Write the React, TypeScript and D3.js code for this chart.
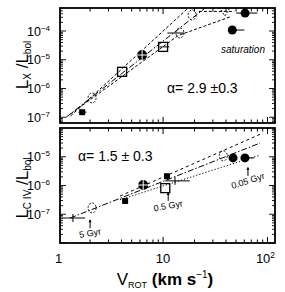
import { scaleLog, line } from "d3";

// top panel: Lx/Lbol vs Vrot
const topV = [1.68, 2.09, 4.05, 6.3, 10, 14.5, 19, 39, 61, 46];
const topL = [1.5e-7, 4.7e-7, 3.8e-6, 1.46e-5, 2.8e-5, 8.5e-5, 3.6e-4, 4.6e-4, 4.2e-4, 1.08e-4];
const topSym = ["fsquare", "dcircle", "osquare", "fcross", "osquare", "dcircle", "dcircle", "otri", "fcircle", "fcircle"];
const topErrLo = [1.55, 0, 0, 5.6, 9.2, 11, 0, 0, 50, 0];
const topErrHi = [1.85, 0, 0, 7, 11.5, 16, 0, 0, 80, 60];

// bottom panel: LCIV/Lbol vs Vrot
const botV = [1.37, 2.09, 4.33, 6.45, 10.5, 10.9, 13, 37.7, 46.8, 60.8];
const botL = [7.4e-8, 1.66e-7, 2.9e-7, 1.04e-6, 8.1e-7, 2.1e-6, 1.45e-6, 1.07e-5, 9.1e-6, 9.1e-6];
const botSym = ["plus", "dcircle", "fsquare", "fcross", "osquare", "fsquare", "plus", "dcircle", "fcircle", "fcircle"];
const botErrLo = [1.1, 0, 0, 0, 0, 0, 10.5, 0, 0, 0];
const botErrHi = [1.79, 0, 0, 0, 0, 0, 18, 0, 0, 75];

// fit lines, points
const topFitV = [1.18, 25.3];
const topFitL = [1.0e-7, 6.3e-4];
const topUpV = [1.3, 17.4];
const topUpL = [1.1e-7, 6.3e-4];
const topLoV = [1.3, 14, 45];
const topLoL = [1.3e-7, 7e-5, 3.2e-4];
const topSatV = [22, 48];
const topSatL = [4.8e-4, 4.8e-4];

const botFitV = [1.29, 85];
const botFitL = [7.4e-8, 3.0e-5];
const botUpV = [3.87, 90.7];
const botUpL = [4.3e-7, 6.7e-5];
const botLoV = [3.87, 85];
const botLoL = [3.2e-7, 1.15e-5];

const ages = ["5 Gyr", "0.5 Gyr", "0.05 Gyr"];
const ageV = [2.0, 11.2, 65];
const ageL = [2.2e-8, 1.95e-7, 1.45e-6];

const xTickLabels = ["1", "10", "10"];
const xTickVals = [1, 10, 100];
const topYTicks = [-4, -5, -6, -7];
const botYTicks = [-5, -6, -7];

const left = 60;
const right = 275;
const font = "Liberation Sans, Arial, Helvetica, sans-serif";

const x = scaleLog().domain([1.03, 118]).range([left, right]);
const yTop = scaleLog().domain([10 ** -7.2, 10 ** -3.2]).range([123, 8]);
const yBot = scaleLog().domain([1e-8, 1e-4]).range([243, 128]);

const minorX = () => {
  const out: number[] = [];
  for (const d of [1, 10, 100]) for (let k = 1; k < 10; k++) out.push(d * k);
  return out.filter((v) => v >= 1.03 && v <= 118);
};
const minorY = (lo: number, hi: number) => {
  const out: number[] = [];
  for (let e = lo; e <= hi; e++) for (let k = 1; k < 10; k++) out.push(k * 10 ** e);
  return out;
};

const Symbol = ({ t, cx, cy }: { t: string; cx: number; cy: number }) => {
  switch (t) {
    case "fsquare":
      return <rect x={cx - 3} y={cy - 3} width={6} height={6} fill="#000" />;
    case "osquare":
      return <rect x={cx - 4.5} y={cy - 4.5} width={9} height={9} fill="none" stroke="#000" strokeWidth={1.3} />;
    case "dcircle":
      return <ellipse cx={cx} cy={cy} rx={4} ry={5} fill="none" stroke="#000" strokeWidth={0.9} strokeDasharray="2 1.5" />;
    case "fcross":
      return (
        <g>
          <circle cx={cx} cy={cy} r={5} fill="#000" />
          <line x1={cx - 6} x2={cx + 6} y1={cy} y2={cy} stroke="#fff" strokeWidth={1} />
          <line x1={cx} x2={cx} y1={cy - 6} y2={cy + 6} stroke="#fff" strokeWidth={1} />
        </g>
      );
    case "fcircle":
      return <circle cx={cx} cy={cy} r={4.5} fill="#000" />;
    case "otri":
      return <path d={`M${cx - 5},${cy - 4}L${cx + 5},${cy - 4}L${cx},${cy + 4}Z`} fill="none" stroke="#000" strokeWidth={1} strokeDasharray="2 1.5" />;
    case "plus":
      return (
        <g stroke="#000" strokeWidth={1}>
          <line x1={cx} x2={cx} y1={cy - 4} y2={cy + 4} />
        </g>
      );
    default:
      return null;
  }
};

const Panel = ({
  y,
  vs,
  ls,
  syms,
  lo,
  hi,
  fits,
  yTicks,
  eLo,
  eHi,
}: {
  y: any;
  vs: number[];
  ls: number[];
  syms: string[];
  lo: number[];
  hi: number[];
  fits: { v: number[]; l: number[]; dash: string }[];
  yTicks: number[];
  eLo: number;
  eHi: number;
}) => {
  const [y1, y0] = y.range();
  const path = line<[number, number]>()
    .x((d) => x(d[0]))
    .y((d) => y(d[1]));
  return (
    <g>
      {fits.map((f, i) => (
        <path
          key={i}
          d={path(f.v.map((v, j) => [v, f.l[j]]))!}
          fill="none"
          stroke="#000"
          strokeWidth={1}
          strokeDasharray={f.dash}
        />
      ))}
      {vs.map((v, i) => (
        <g key={i}>
          {hi[i] > 0 && (
            <line
              x1={x(lo[i] || v)}
              x2={x(hi[i])}
              y1={y(ls[i])}
              y2={y(ls[i])}
              stroke="#000"
              strokeWidth={1}
            />
          )}
          <Symbol t={syms[i]} cx={x(v)} cy={y(ls[i])} />
        </g>
      ))}
      {/* frame */}
      <rect x={left} y={y0} width={right - left} height={y1 - y0} fill="none" stroke="#000" strokeWidth={1.8} />
      {minorX().map((v) => {
        const len = v === 10 || v === 100 ? 6 : 3.5;
        return (
          <g key={v} stroke="#000" strokeWidth={1}>
            <line x1={x(v)} x2={x(v)} y1={y1} y2={y1 - len} />
            <line x1={x(v)} x2={x(v)} y1={y0} y2={y0 + len} />
          </g>
        );
      })}
      {minorY(eLo, eHi)
        .filter((l) => y(l) >= y0 && y(l) <= y1)
        .map((l, i) => {
          const major = Math.abs(Math.log10(l) - Math.round(Math.log10(l))) < 1e-6;
          const len = major ? 6 : 3;
          return (
            <g key={i} stroke="#000" strokeWidth={0.9}>
              <line x1={left} x2={left + len} y1={y(l)} y2={y(l)} />
              <line x1={right} x2={right - len} y1={y(l)} y2={y(l)} />
            </g>
          );
        })}
      {yTicks.map((e) => (
        <text key={e} x={50} y={y(10 ** e) + 4.5} textAnchor="end" fontSize={12.5} fontFamily={font}>
          10
          <tspan fontSize={8} dy={-5}>
            {"\u2212" + Math.abs(e)}
          </tspan>
        </text>
      ))}
    </g>
  );
};

export default function App() {
  return (
    <svg
      width={285}
      height={292}
      style={{ position: "absolute", left: 0, top: 0, background: "#fff" }}
    >
      <rect width={285} height={292} fill="#fff" />
      <Panel
        y={yTop}
        vs={topV}
        ls={topL}
        syms={topSym}
        lo={topErrLo}
        hi={topErrHi}
        fits={[
          { v: topFitV, l: topFitL, dash: "6 2 1.5 2" },
          { v: topUpV, l: topUpL, dash: "3 2" },
          { v: topLoV, l: topLoL, dash: "3 2" },
          { v: topSatV, l: topSatL, dash: "3 2" },
        ]}
        yTicks={topYTicks}
        eLo={-8}
        eHi={-4}
      />
      <Panel
        y={yBot}
        vs={botV}
        ls={botL}
        syms={botSym}
        lo={botErrLo}
        hi={botErrHi}
        fits={[
          { v: botFitV, l: botFitL, dash: "6 2 1.5 2" },
          { v: botUpV, l: botUpL, dash: "3 3" },
          { v: botLoV, l: botLoL, dash: "1.2 2" },
        ]}
        yTicks={botYTicks}
        eLo={-8}
        eHi={-5}
      />

      {/* annotations */}
      <text x={243} y={53} textAnchor="middle" fontSize={10} fontStyle="italic" fontFamily={font}>
        saturation
      </text>
      <text x={167} y={93} fontSize={14} fontFamily={font}>
        {"\u03b1= 2.9 \u00b10.3"}
      </text>
      <text x={78} y={161} fontSize={14} fontFamily={font}>
        {"\u03b1= 1.5 \u00b1 0.3"}
      </text>
      {ages.map((a, i) => {
        const ax = x(ageV[i]);
        const ay = yBot(ageL[i]);
        return (
          <g key={a}>
            <line x1={ax} x2={ax} y1={ay - 5} y2={ay - 13} stroke="#000" strokeWidth={1} />
            <path d={`M${ax - 1.5},${ay - 11}L${ax},${ay - 14}L${ax + 1.5},${ay - 11}Z`} fill="#000" />
            <text
              x={ax}
              y={ay + 3}
              textAnchor="middle"
              fontSize={9}
              fontFamily={font}
              transform={`rotate(${i === 2 ? -18 : -10},${ax},${ay})`}
            >
              {a}
            </text>
          </g>
        );
      })}

      {/* x tick labels */}
      {xTickVals.map((v, i) => (
        <text key={v} x={x(v) + (i === 2 ? -2 : 0)} y={263} textAnchor="middle" fontSize={13} fontFamily={font}>
          {xTickLabels[i]}
          {i === 2 && (
            <tspan fontSize={8.5} dy={-5}>
              2
            </tspan>
          )}
        </text>
      ))}

      {/* axis titles */}
      <text transform="translate(28,65) rotate(-90)" textAnchor="middle" fontSize={17} fontFamily={font}>
        L<tspan fontSize={10} dy={3}>X</tspan>
        <tspan dy={-3}> /L</tspan>
        <tspan fontSize={10} dy={3}>bol</tspan>
      </text>
      <text transform="translate(28,188) rotate(-90)" textAnchor="middle" fontSize={17} fontFamily={font}>
        L<tspan fontSize={10} dy={3}>C IV</tspan>
        <tspan dy={-3}> /L</tspan>
        <tspan fontSize={10} dy={3}>bol</tspan>
      </text>
      <text x={165} y={285} textAnchor="middle" fontSize={17} fontFamily={font}>
        V<tspan fontSize={9} dy={3}>ROT</tspan>
        <tspan dy={-3} fontWeight="bold">{"  (km  s"}</tspan>
        <tspan fontSize={10} dy={-7}>{"\u22121"}</tspan>
        <tspan dy={7} fontWeight="bold">)</tspan>
      </text>
    </svg>
  );
}
